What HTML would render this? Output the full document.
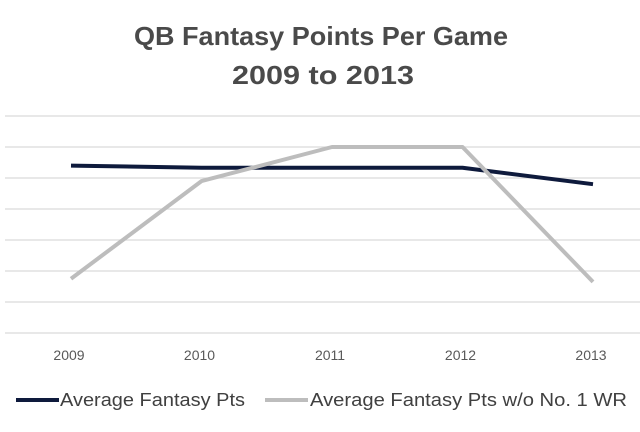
<!DOCTYPE html>
<html><head><meta charset="utf-8"><style>
body{margin:0;background:#fff;font-family:"Liberation Sans",sans-serif}
</style></head><body>
<svg id="chart" width="640" height="427" viewBox="0 0 640 427" xmlns="http://www.w3.org/2000/svg">
<rect width="640" height="427" fill="#fff"/>
<text x="134" y="45" textLength="374" lengthAdjust="spacingAndGlyphs" font-size="26" font-weight="bold" fill="#4a4a4a">QB Fantasy Points Per Game</text>
<text x="232" y="84" textLength="182" lengthAdjust="spacingAndGlyphs" font-size="26" font-weight="bold" fill="#4a4a4a">2009 to 2013</text>
<g id="grid"></g><g id="xlabels"></g><g id="series"></g>
<g>
<line x1="16" y1="400" x2="59" y2="400" stroke="#0e1a3c" stroke-width="4"/>
<text x="60" y="406" font-size="18" textLength="185" lengthAdjust="spacingAndGlyphs" fill="#404040">Average Fantasy Pts</text>
<line x1="265" y1="400" x2="308" y2="400" stroke="#bdbdbd" stroke-width="4"/>
<text x="310" y="406" font-size="18" textLength="317" lengthAdjust="spacingAndGlyphs" fill="#404040">Average Fantasy Pts w/o No. 1 WR</text>
</g>
</svg>
<script>
const categories=["2009","2010","2011","2012","2013"];
const avgPts=[19.4,19.33,19.33,19.33,18.8];
const avgNoWR=[15.75,18.9,20.0,20.0,15.65];
const gridTicks=[14,15,16,17,18,19,20,21];
const NS="http://www.w3.org/2000/svg";
const yMin=14,yMax=21,yBot=333,yTop=116;
function y(v){return yBot-(v-yMin)/(yMax-yMin)*(yBot-yTop);}
function x(i){return 71+i*130.5;}
const grid=document.getElementById('grid');
gridTicks.forEach(t=>{const l=document.createElementNS(NS,'line');


l.setAttribute('x1',5);l.setAttribute('x2',640);l.setAttribute('y1',y(t));l.setAttribute('y2',y(t));
l.setAttribute('stroke','#d9d9d9');l.setAttribute('stroke-width','1.3');grid.appendChild(l);});
const xl=document.getElementById('xlabels');
categories.forEach((c,i)=>{const t=document.createElementNS(NS,'text');


t.setAttribute('x',x(i)-2);t.setAttribute('y',360);t.setAttribute('text-anchor','middle');
t.setAttribute('font-size','14');t.setAttribute('fill','#595959');t.textContent=c;xl.appendChild(t);});
const s=document.getElementById('series');
function draw(vals,color,name){const p=document.createElementNS(NS,'polyline');


p.setAttribute('points',vals.map((v,i)=>x(i)+','+y(v)).join(' '));
p.setAttribute('fill','none');p.setAttribute('stroke',color);p.setAttribute('stroke-width','4');
p.setAttribute('stroke-linejoin','round');s.appendChild(p);}
draw(avgPts,'#0e1a3c','line-average-fantasy-pts');
draw(avgNoWR,'#bdbdbd','line-average-without-no1-wr');
</script>
</body></html>
